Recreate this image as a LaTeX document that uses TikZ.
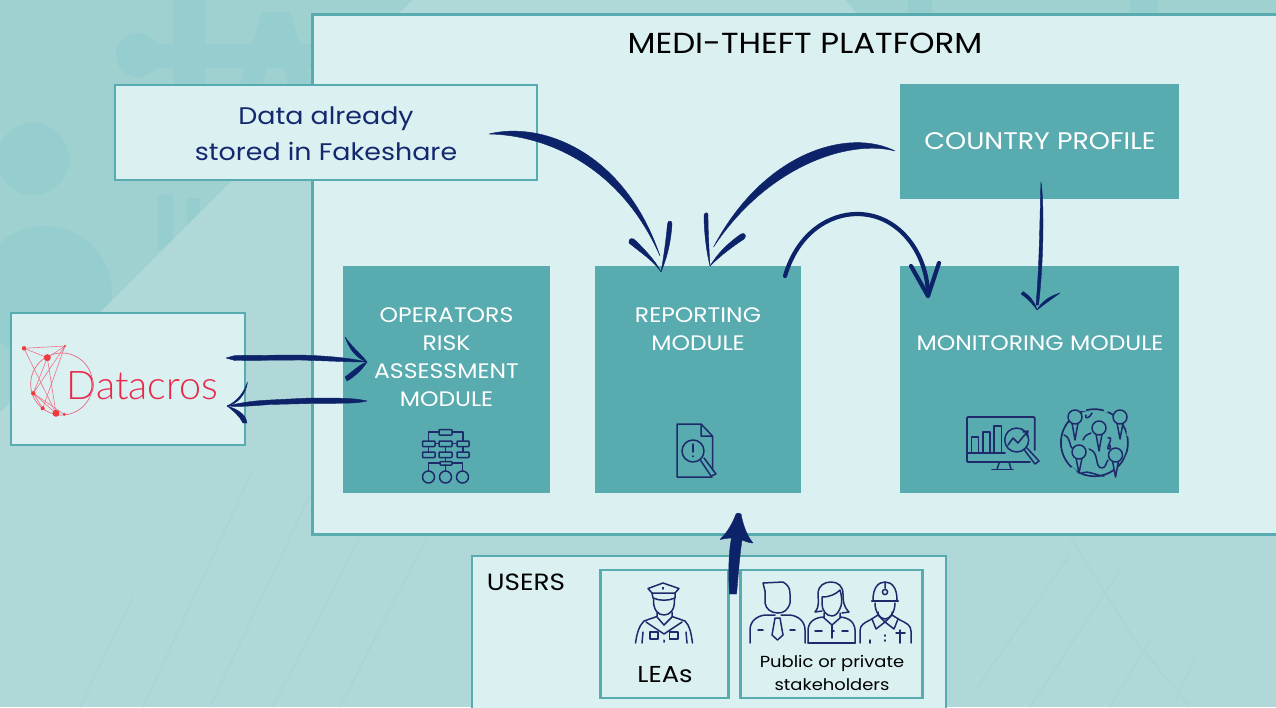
\documentclass[tikz,border=0pt]{standalone}
\usepackage{fontspec}
\setmainfont{Poppins}[FakeStretch=1.12]
\newfontfamily\logofont{Lato Light}
\definecolor{bglight}{HTML}{B0D8D8}
\definecolor{bgdark}{HTML}{9FD1D0}
\definecolor{wmdark}{HTML}{96CDCE}
\definecolor{faint}{HTML}{AAD5D6}
\definecolor{pale}{HTML}{DAF0F1}
\definecolor{boxteal}{HTML}{58ABAE}
\definecolor{navy}{HTML}{0D2369}
\definecolor{iconblue}{HTML}{1E2A6B}
\definecolor{datablue}{HTML}{14286E}
\definecolor{logored}{HTML}{E8284A}
\definecolor{dotred}{HTML}{F0393A}
\tikzset{
  panel/.style={draw=boxteal,line width=2.8pt,fill=pale,inner sep=0pt,outer sep=0pt},
  module/.style={fill=boxteal,inner sep=0pt,outer sep=0pt},
  modtext/.style={text=white,align=center,inner sep=0pt,font=\fontsize{21}{28}\selectfont},
  blacktext/.style={text=black,align=center,inner sep=0pt},
  brush/.style={fill=navy,draw=navy,line width=0.4pt,line join=round},
  stroke/.style={draw=navy,line cap=round},
  icon/.style={draw=iconblue,line width=1.5pt,line cap=round,line join=round},
  iconbox/.style={icon,rounded corners=0.6pt},
  logoline/.style={draw=logored!65,line width=0.6pt},
  wm/.style={draw=faint,line width=1.5pt}
}
\begin{document}
\begin{tikzpicture}[x=1pt,y=-1pt]
\useasboundingbox (0,0) rectangle (1276,707);
\clip (0,0) rectangle (1276,707);
% background
\fill[bglight] (0,0) rectangle (1276,707);
\fill[bgdark] (0,0) -- (412,0) -- (0,412) -- cycle;
\fill[bgdark] (846,0) -- (1276,0) -- (1276,30) -- (870,30) -- cycle;
\begin{scope}
  \clip (0,0) -- (412,0) -- (0,412) -- cycle;
  \fill[wmdark] (33,159) circle (36);
  \fill[wmdark] (45,293) circle (67);
  \fill[wmdark] (138,55) circle (22);
  \fill[wmdark] (138,44) rectangle (312,68);
  \fill[wmdark] (173,0) rectangle (205,85);
  \fill[wmdark] (240,85) -- (262,12) -- (290,12) -- (312,85) -- (288,85) -- (276,40) -- (262,85) -- cycle;
  \fill[wmdark] (158,195) rectangle (173,250);
  \fill[wmdark] (187,198) rectangle (200,225);
\end{scope}
\fill[wmdark] (908,0) rectangle (932,14);
\fill[wmdark] (1130,0) rectangle (1158,14);
\draw[wm] (80,707) -- (133,597);
\draw[wm] (143,707) -- (253,470);
\draw[wm] (210,707) -- (310,495);
\draw[wm] (273,707) -- (360,537);
\draw[wm] (340,707) -- (427,537);
\draw[wm] (1070,537) -- (1135,640) -- (1190,707);
\draw[wm] (1070,555) -- (975,690);
\draw[wm] (1120,570) -- (1030,707);
\draw[wm] (1150,640) -- (1110,707);
\draw[wm] (1195,660) -- (1175,700);
% boxes
\node[panel,minimum width=979pt,minimum height=520pt] (main) at (802,274.5) {};
\node[panel,minimum width=422pt,minimum height=95pt] (data) at (326,132.5) {};
\node[panel,minimum width=234pt,minimum height=132pt] (datacros) at (128,379) {};
\node[panel,minimum width=474pt,minimum height=170pt] (users) at (709,641) {};
\node[panel,minimum width=128pt,minimum height=128pt] (lea) at (664.5,634) {};
\node[panel,minimum width=182pt,minimum height=128pt] (public) at (831.5,634) {};
\node[module,minimum width=207pt,minimum height=227pt] (op) at (446.5,379.5) {};
\node[module,minimum width=206pt,minimum height=227pt] (rep) at (698,379.5) {};
\node[module,minimum width=279pt,minimum height=227pt] (mon) at (1039.5,379.5) {};
\node[module,minimum width=279pt,minimum height=115pt] (country) at (1039.5,141.5) {};
% texts
\node[blacktext,font=\fontsize{29}{32}\selectfont] (title) at (805,43.5) {MEDI-THEFT PLATFORM};
\node[text=datablue,align=center,inner sep=0pt,font=\fontsize{24}{36}\selectfont] (datatext) at (326,134) {Data already\\stored in Fakeshare};
\node[modtext] (optext) at (446.5,357.5) {OPERATORS\\RISK\\ASSESSMENT\\MODULE};
\node[modtext] (reptext) at (698,329.5) {REPORTING\\MODULE};
\node[modtext] (montext) at (1040,343.5) {MONITORING MODULE};
\node[modtext,font=\fontsize{24}{28}\selectfont] (countrytext) at (1040,141.5) {COUNTRY PROFILE};
\node[blacktext,font=\fontsize{23.5}{26}\selectfont] (userstext) at (526,582) {USERS};
\node[blacktext,font=\fontsize{23}{26}\selectfont] (leatext) at (665,674.5) {LEAs};
\node[blacktext,font=\fontsize{16}{23}\selectfont] (pubtext) at (832,672.5) {Public or private\\stakeholders};
\node[text=logored,inner sep=0pt,font=\logofont\fontsize{39.5}{42}\selectfont] (logotext) at (142.5,386) {Datacros};
% datacros logo
\draw[logored!70,line width=0.7pt] (61.7,384) circle (31);
\draw[logoline] (24,348.3) -- (65,346) -- (33.3,393.3) -- (47.3,357.7) -- (24,348.3) -- (56,413.3) -- (47.3,357.7) -- (65,346) -- (42.7,408.3) -- (33.3,393.3) -- (56,413.3);
\draw[logoline] (33.3,393.3) -- (64.3,414.3);
\fill[dotred] (24,348.3) circle (2.2) (47.3,357.7) circle (3.5) (65,346) circle (1.2) (33.3,393.3) circle (2.2) (42.7,408.3) circle (2) (56,413.3) circle (3.5) (64.3,414.3) circle (1.6);
% org chart icon
\begin{scope}
\draw[iconbox] (439,429.5) rectangle (452,435);
\draw[iconbox] (422.5,441) rectangle (435,446.5);
\draw[iconbox] (439,441) rectangle (452,446.5);
\draw[iconbox] (457,441) rectangle (469,446.5);
\draw[iconbox] (422.5,452) rectangle (435,457.5);
\draw[iconbox] (439,452) rectangle (452,457.5);
\draw[iconbox] (457,452) rectangle (469,457.5);
\draw[iconbox] (440,461.5) rectangle (452,465);
\draw[icon] (439,432) -- (428.5,432) -- (428.5,441) (452,432) -- (463,432) -- (463,441) (435,443.7) -- (439,443.7) (452,443.7) -- (457,443.7) (428.5,446.5) -- (428.5,452) (445.5,446.5) -- (445.5,452) (463,446.5) -- (463,452) (445.5,457.5) -- (445.5,461.5) (440,463) -- (428.5,463) -- (428.5,471) (452,463) -- (462.5,463) -- (462.5,471) (445.5,465) -- (445.5,471);
\draw[icon] (428.5,477) circle (6) (445.5,477) circle (6) (462.5,477) circle (6);
\end{scope}
% document icon
\draw[icon] (701,424) -- (677,424) -- (677,477) -- (712,477) (712.5,470) -- (712.5,436) -- (701,424) -- (701,436) -- (712.5,436);
\draw[icon,fill=boxteal] (693,451) circle (11);
\draw[icon] (693,444) -- (693,452) (693,456) -- (693,456.5);
\draw[icon] (700,459.5) -- (711,476) -- (716,474) -- (704,458);
% monitor icon
\draw[icon,line width=1.8pt,rounded corners=1pt] (1030,462) -- (967,462) -- (967,417) -- (1034.7,417) -- (1034.7,450);
\draw[icon,line width=1.8pt] (967,453) -- (1005,453);
\draw[icon] (971.5,453) -- (971.5,437) -- (978.4,437) -- (978.4,453) (983,453) -- (983,432) -- (990,432) -- (990,453) (994,453) -- (994,426) -- (1001.4,426) -- (1001.4,453);
\draw[icon,fill=boxteal] (1016.7,440) circle (12);
\draw[icon] (1008,445) -- (1013,438) -- (1018,443) -- (1027,432) (1023,432) -- (1028,431) -- (1027,436);
\draw[icon] (1024,449.5) -- (1035,464) -- (1039,461) -- (1027,448);
\draw[icon] (999.5,462) -- (997,469) (1009,462) -- (1011,469);
\draw[icon,line width=1.8pt] (992,469.5) -- (1013,469.5);
% globe with pins
\draw[icon,line width=1.7pt] (1094.4,442.7) circle (33.5);
\draw[draw=boxteal,line width=3pt] (1062,420) -- (1066,414) (1128,455) -- (1125,462) (1082,410) -- (1086,409) (1071,468) -- (1076,472) (1128,430) -- (1128,436) (1104,410) -- (1108,411);
\draw[icon] (1064,435) .. controls (1072,438) and (1068,447) .. (1074,450);
\draw[icon] (1086,415) .. controls (1084,420) and (1090,418) .. (1092,413);
\draw[icon] (1083,440) .. controls (1085,435) and (1088,434) .. (1091,433);
\draw[icon] (1108,438) .. controls (1114,436) and (1108,445) .. (1108,447) .. controls (1106,450) and (1112,450) .. (1110,445);
\draw[icon] (1089,449) .. controls (1100,452) and (1094,468) .. (1102,468) .. controls (1106,468) and (1106,462) .. (1108,460);
\draw[icon] (1082,473) .. controls (1090,470) and (1096,476) .. (1104,476);
\foreach \px/\py/\tipy in {1075/417/440,1120/417/439,1099/428/451,1079/452/473,1115.5/455/477}{
  \draw[icon,fill=boxteal] (\px-3,\py+6) -- (\px,\tipy) -- (\px+3,\py+6);
  \draw[icon,fill=boxteal] (\px,\py) circle (7);
}
% police icon
\draw[icon] (648,588.5) -- (663,583) -- (679,588.5) -- (675,593) -- (652,593) -- cycle;
\draw[icon] (652,593) -- (653,598) .. controls (660,601) and (668,601) .. (675,598) -- (675,593);
\draw[icon] (663,587.5) -- (663,589);
\draw[icon] (653.5,599) .. controls (653,610) and (658,615) .. (664,615) .. controls (670,615) and (675,610) .. (674.5,599);
\draw[icon] (635.5,643) .. controls (637,633) and (639,626) .. (644,621) -- (657,616.5) -- (657,612) (672,612) -- (672,616.5) -- (685,621) .. controls (690,626) and (691,633) .. (692.5,643);
\draw[icon] (646,622) -- (664,634) -- (682,622) (657,617) -- (664,625) -- (672,617);
\draw[icon] (650,632) -- (658,632) -- (658,639) -- (650,639) -- cycle (669.5,632) -- (678,632) -- (678,639) -- (669.5,639) -- cycle;
\draw[icon] (643,632) -- (642,643) (686,632) -- (687,643) (664,640) -- (664,642);
% man icon
\draw[icon] (763,583) -- (783,582) .. controls (788,585) and (790,588) .. (790,594) -- (790,603) .. controls (788,610) and (784,613) .. (778,613) .. controls (771,613) and (766,609) .. (765,603) -- (765,591) -- cycle;
\draw[icon] (750,643) -- (750,630) .. controls (750,621) and (757,616) .. (765,615) -- (775,615) (781,615) -- (790,615) .. controls (798,616) and (805,621) .. (805,630) -- (805,643);
\draw[icon] (775,618) -- (772,635) -- (777.5,640) -- (783,635) -- (780,618) -- cycle;
\draw[icon] (758,630) -- (763,630) (790,630) -- (795,630);
% woman icon
\draw[icon] (822,611) -- (815,612) .. controls (820,606) and (818,600) .. (818,594) .. controls (818,585) and (825,582) .. (831,582) .. controls (838,582) and (843,586) .. (843,594) .. controls (843,600) and (843,606) .. (849,612) -- (842,613);
\draw[icon] (822,597) .. controls (830,597) and (836,594) .. (840,590) .. controls (842,596) and (842,603) .. (841,606) .. controls (839,612) and (836,616) .. (832,616) .. controls (826,616) and (822,610) .. (822,604) -- cycle;
\draw[icon] (824,613) -- (824,618) -- (832,625) -- (840,618) -- (840,613);
\draw[icon,rounded corners=5pt] (808,643) -- (808,625) -- (815,618) -- (824,617);
\draw[icon,rounded corners=5pt] (840,617) -- (848,618) -- (855,625) -- (855,643);
\draw[icon] (808,643) -- (855,643);
\draw[icon] (815,631) -- (822,631) (842,631) -- (848,631) (832,625) -- (832,638) (832,631) -- (834,631);
% worker icon
\draw[icon] (873,600) .. controls (873,588) and (878,582) .. (885,582) .. controls (892,582) and (897,588) .. (897,600);
\draw[icon,line width=2.2pt] (872,601) -- (898,601);
\draw[icon] (885,582) -- (885,588) (885,592) circle (2.6);
\draw[icon] (875,603) .. controls (875,612) and (880,619) .. (885,619) .. controls (890,619) and (895,612) .. (895,603);
\draw[icon] (860,643) -- (860,631) .. controls (860,625) and (864,623) .. (870,620) -- (878,615) -- (878,612) (892,612) -- (892,615) -- (900,620) .. controls (906,623) and (911,625) .. (911,631) -- (911,643);
\draw[icon] (872,619) -- (876,629) -- (885,622) -- (894,629) -- (898,619) (878,615) -- (885,622) -- (892,615);
\draw[icon] (870,640) -- (870,643) (885,635) -- (885,636) (885,640) -- (885,641) (900,630) -- (900,643) (896,633) -- (905,633);
% connector ends
\coordinate (a1s) at ([shift={(-48,1.5)}]data.east);
\coordinate (a1t) at ([shift={(-37,6)}]rep.north);
\coordinate (a2s) at ([shift={(-5,9.5)}]country.west);
\coordinate (a2t) at ([shift={(12,0)}]rep.north);
\coordinate (a3s) at ([shift={(-16,10)}]rep.north east);
\coordinate (a3t) at ([shift={(28,30)}]mon.north west);
\coordinate (a4s) at ([shift={(1.5,-17)}]country.south);
\coordinate (a4t) at ([shift={(-2.5,44)}]mon.north);
\coordinate (a5s) at ([shift={(-19,-21)}]datacros.east);
\coordinate (a5t) at ([shift={(24,-17.5)}]op.west);
\coordinate (a6s) at ([shift={(24,21.5)}]op.west);
\coordinate (a6t) at ([shift={(-18,27)}]datacros.east);
\coordinate (a7s) at ([shift={(8,24)}]lea.north east);
\coordinate (a7t) at ([shift={(40,20)}]rep.south);
% data -> reporting
\path[brush] (a1s) .. controls (540,121) and (624,150) .. (660,256) .. controls (620,165) and (545,135) .. (a1s);
\path[brush] (a1t) .. controls (655,262) and (640,252) .. (629,243) .. controls (628,238) and (633,237) .. (636,241) .. controls (645,250) and (655,260) .. (a1t);
\path[brush] (a1t) .. controls (664,255) and (666,240) .. (667.5,224) .. controls (668,220) and (672,220) .. (672,224) .. controls (671,240) and (668,255) .. (a1t);
% country -> reporting
\path[brush] (a2s) .. controls (850,128) and (765,150) .. (713.5,247) .. controls (768,165) and (850,139) .. (a2s);
\path[brush] (a2t) .. controls (706,250) and (704,230) .. (704,215) .. controls (705,212) and (708,212) .. (708,215) .. controls (708,230) and (709,250) .. (a2t);
\path[brush] (a2t) .. controls (720,250) and (730,242) .. (741,234) .. controls (745,232) and (747,236) .. (744,239) .. controls (732,247) and (720,256) .. (a2t);
% reporting -> monitoring
\draw[stroke,line width=4.2pt] (a3s) .. controls (798,232) and (830,214) .. (857,214) .. controls (900,214) and (928,255) .. (a3t);
\draw[stroke,line width=4.2pt,line join=round] (911,266) -- (a3t) -- (939,263);
% country -> monitoring
\path[brush] (a4s) .. controls (1044,200) and (1044,260) .. (1038.5,305) -- (1036,305) .. controls (1040,260) and (1040,200) .. (a4s);
\path[brush] (a4t) .. controls (1032,303) and (1027,298) .. (1021,294) -- (1023,291.5) .. controls (1030,296) and (1035,302) .. (a4t);
\path[brush] (a4t) .. controls (1042,301) and (1050,296) .. (1060,293) .. controls (1050,300) and (1042,306) .. (a4t);
% datacros -> operators
\path[brush] (a5s) -- (235,355.5) -- (300,355) .. controls (330,356) and (350,358) .. (a5t) .. controls (350,362) and (330,361) .. (300,360) -- (235,360.5) -- cycle;
\path[brush] (a5t) .. controls (356,358) and (350,350) .. (345,337) .. controls (352,347) and (362,355) .. (a5t);
\path[brush] (a5t) .. controls (360,364) and (352,372) .. (345,377) -- (347,381) .. controls (354,377) and (362,370) .. (a5t);
% operators -> datacros
\path[brush] (a6s) .. controls (355,398) and (340,398) .. (310,398) -- (270,400) .. controls (250,401) and (240,403) .. (a6t) .. controls (240,407) and (250,406) .. (270,404.5) -- (310,403.5) .. controls (340,403) and (355,404) .. (a6s);
\path[brush] (a6t) .. controls (238,401) and (244,392) .. (247.5,382) .. controls (246,394) and (238,404) .. (a6t);
\path[brush] (a6t) .. controls (234,411) and (240,417) .. (243,423) -- (247,423) .. controls (246,414) and (237,409) .. (a6t);
% users -> reporting
\path[brush] (a7s) -- (729.5,594) .. controls (728,570) and (729,550) .. (731.5,538) .. controls (727,538) and (723,539) .. (720,539.5) .. controls (728,532) and (733,522) .. (736,514) -- (a7t) -- (741,514) .. controls (743,525) and (747,536) .. (753,543) .. controls (749,543) and (745,541) .. (742,540) .. controls (739,560) and (738,580) .. (a7s) -- cycle;
\end{tikzpicture}
\end{document}
